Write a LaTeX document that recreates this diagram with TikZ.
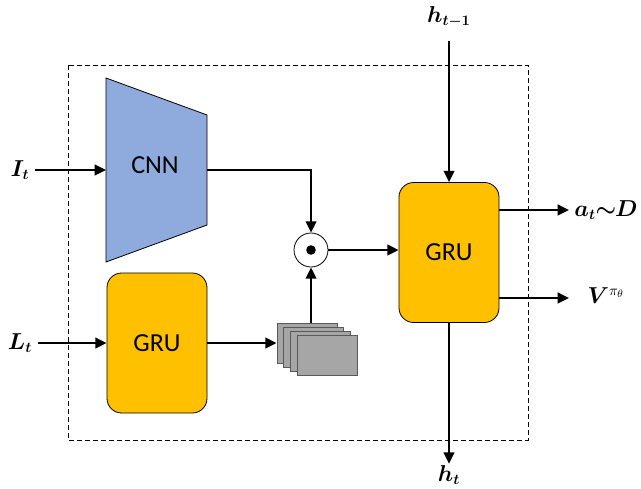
\documentclass[tikz,border=0pt]{standalone}
\usepackage{amsmath,amssymb,bm}
\usepackage{fontspec}
\newfontfamily\boxfont{Carlito}
\usetikzlibrary{arrows.meta}

\definecolor{cnnblue}{HTML}{8FAADC}
\definecolor{gruorange}{HTML}{FFC000}
\definecolor{mapgray}{HTML}{A6A6A6}

\begin{document}
\begin{tikzpicture}[x=0.75pt,y=-0.75pt,
    flow/.style={-{Triangle[length=8.5pt,width=8pt]},line width=1.5pt},
    gru/.style={draw=black,line width=0.6pt,fill=gruorange,rounded corners=11pt,
        minimum width=75pt,minimum height=105pt,font=\boxfont\fontsize{19.5}{19.5}\selectfont},
    fmap/.style={draw=black!65,line width=0.6pt,fill=mapgray,minimum width=45pt,minimum height=30pt,inner sep=0pt},
    lbl/.style={font=\fontsize{16}{16}\selectfont,inner sep=1pt}]
    \useasboundingbox (0,0) rectangle (641,488);
        % module border
        \draw[dashed,dash pattern=on 3.5pt off 2.5pt,line width=0.7pt] (68,65) rectangle (528,440);
        % encoder
        \draw[line width=0.6pt,fill=cnnblue] (106,78) -- (207,115) -- (207,225) -- (106,262) -- cycle;
        \node[font=\boxfont\fontsize{19.5}{19.5}\selectfont] (cnn) at (155,165) {CNN};
        \coordinate (cnnin) at (106,170);
        \coordinate (cnnout) at (207,170);
        \node[gru] (gruL) at (157,343) {GRU};
        \node[gru] (gruR) at (449,252.5) {GRU};
        % feature maps
        \foreach \i in {0,...,3}
            \node[fmap] (fm\i) at (307+6.7*\i,343+4.2*\i) {};
        % product
        \node[draw,circle,line width=0.6pt,minimum size=25.5pt,inner sep=0pt] (odot) at (311,250) {};
        \fill (odot) circle (3.6pt);
        % labels
        \node[lbl] (It) at (20,170) {$\bm{I_t}$};
        \node[lbl] (Lt) at (20,343) {$\bm{L_t}$};
        \node[lbl] (hprev) at (449,17) {$\bm{h_{t-1}}$};
        \node[lbl] (hnext) at (449,475) {$\bm{h_t}$};
        \node[lbl,anchor=east] (act) at (639,210) {$\bm{a_t{\sim}\mkern-1mu D}$};
        \node[lbl,anchor=west] (val) at (586,296) {$\bm{V}^{\pi_\theta}$};
        \coordinate (actin) at (569,210);
        \coordinate (valin) at (569,298);
        % connections
        \draw[flow] (It.east) ++(4,0) -- (cnnin);
        \draw[flow] (Lt.east) ++(4,0) -- (gruL.west);
        \draw[flow] (cnnout) -| (odot.north);
        \draw[flow] (gruL.east) -- (fm0.west);
        \draw[flow] (fm0.north -| odot) -- (odot.south);
        \draw[flow] (odot.east) -- (gruR.west |- odot);
        \draw[flow] (hprev.south) ++(0,12) -- (gruR.north);
        \draw[flow] (gruR.south) -- (hnext.north);
        \draw[flow] (gruR.east |- actin) -- (actin);
        \draw[flow] (gruR.east |- valin) -- (valin);
    \end{tikzpicture}
\end{document}
